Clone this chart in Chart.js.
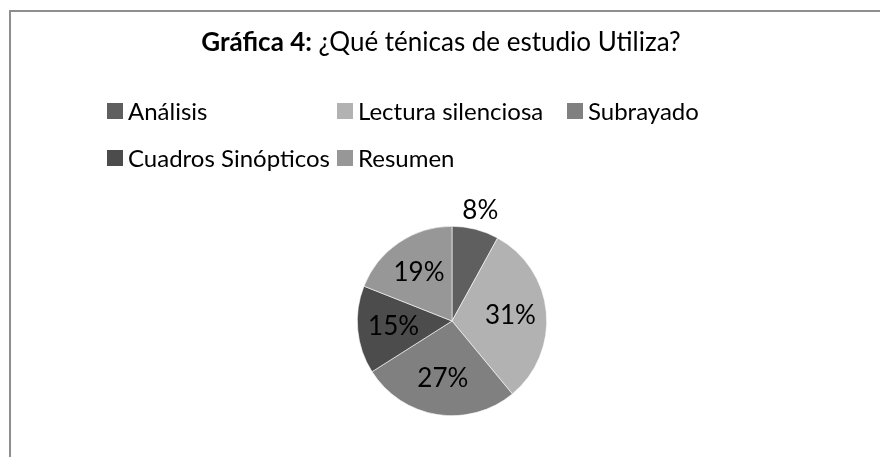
<!DOCTYPE html>
<html>
<head>
<meta charset="utf-8">
<script src="https://cdn.jsdelivr.net/npm/chart.js@4.4.0/dist/chart.umd.min.js"></script>
<style>
  html, body { margin: 0; padding: 0; background: #fff; }
  canvas { display: block; }
</style>
</head>
<body>
<canvas id="chartTecnicas" width="880" height="457"></canvas>
<script>
const categorias = ['Análisis', 'Lectura silenciosa', 'Subrayado', 'Cuadros Sinópticos', 'Resumen'];
const porcentajes = [8, 31, 27, 15, 19];
const colores = ['#5f5f5f', '#b2b2b2', '#808080', '#4c4c4c', '#979797'];
const tituloNegrita = 'Gráfica 4:';
const tituloTexto = ' ¿Qué ténicas de estudio Utiliza?';

const fuente = 'Lato, "Liberation Sans", sans-serif';

// marco, titulo y leyenda dibujados a mano (estilo Excel)
const decoraciones = {
    id: 'decoraciones',
    beforeDraw(chart) {
        const ctx = chart.ctx;
        ctx.save();
        ctx.fillStyle = '#ffffff';
        ctx.fillRect(0, 0, chart.width, chart.height);
        ctx.fillStyle = '#8e8e8e';
        ctx.fillRect(9, 10, 2, chart.height - 10);
        ctx.fillRect(9, 10, chart.width - 9, 2);
        ctx.restore();
    },
    afterDraw(chart) {
        const ctx = chart.ctx;
        ctx.save();
        ctx.fillStyle = '#000';
        ctx.textBaseline = 'middle';

        // titulo
        ctx.font = 'bold 26px ' + fuente;
        const w1 = ctx.measureText(tituloNegrita).width;
        ctx.font = '26px ' + fuente;
        const w2 = ctx.measureText(tituloTexto).width;
        let x = 441 - (w1 + w2) / 2;
        ctx.textAlign = 'left';
        ctx.font = 'bold 26px ' + fuente;
        ctx.fillText(tituloNegrita, x, 43);
        ctx.font = '26px ' + fuente;
        ctx.fillText(tituloTexto, x + w1, 43);

        // leyenda en cuadricula
        ctx.font = '24px ' + fuente;
        categorias.forEach((cat, i) => {
            const col = i % 3;
            const fila = Math.floor(i / 3);
            const lx = 107 + col * 230;
            const ly = 103 + fila * 47;
            ctx.fillStyle = colores[i];
            ctx.fillRect(lx, ly, 16, 16);
            ctx.fillStyle = '#000';
            ctx.fillText(cat, lx + 21, ly + 9);
        });

        // etiquetas de porcentaje
        ctx.textAlign = 'center';
        ctx.font = '26px ' + fuente;
        const meta = chart.getDatasetMeta(0);
        meta.data.forEach((arc, i) => {
            const p = arc.getProps(['x', 'y', 'startAngle', 'endAngle', 'outerRadius']);
            const medio = (p.startAngle + p.endAngle) / 2;
            const r = porcentajes[i] < 10 ? p.outerRadius + 19 : p.outerRadius * 0.62;
            ctx.fillText(porcentajes[i] + '%', p.x + Math.cos(medio) * r, p.y + Math.sin(medio) * r);
        });
        ctx.restore();
    }
};

const ctx = document.getElementById('chartTecnicas').getContext('2d');

const chartTecnicas = new Chart(ctx, {
    type: 'pie',
    data: {
        labels: categorias,
        datasets: [{
            data: porcentajes,
            backgroundColor: colores,
            borderColor: '#ffffff',
            borderWidth: 0.6
        }]
    },
    options: {
        responsive: false,
        animation: false,
        layout: { padding: { top: 226, bottom: 41, left: 24, right: 0 } },
        plugins: {
            legend: { display: false },
            title: { display: false },
            tooltip: { enabled: false }
        }
    },
    plugins: [decoraciones]
});
</script>
</body>
</html>
